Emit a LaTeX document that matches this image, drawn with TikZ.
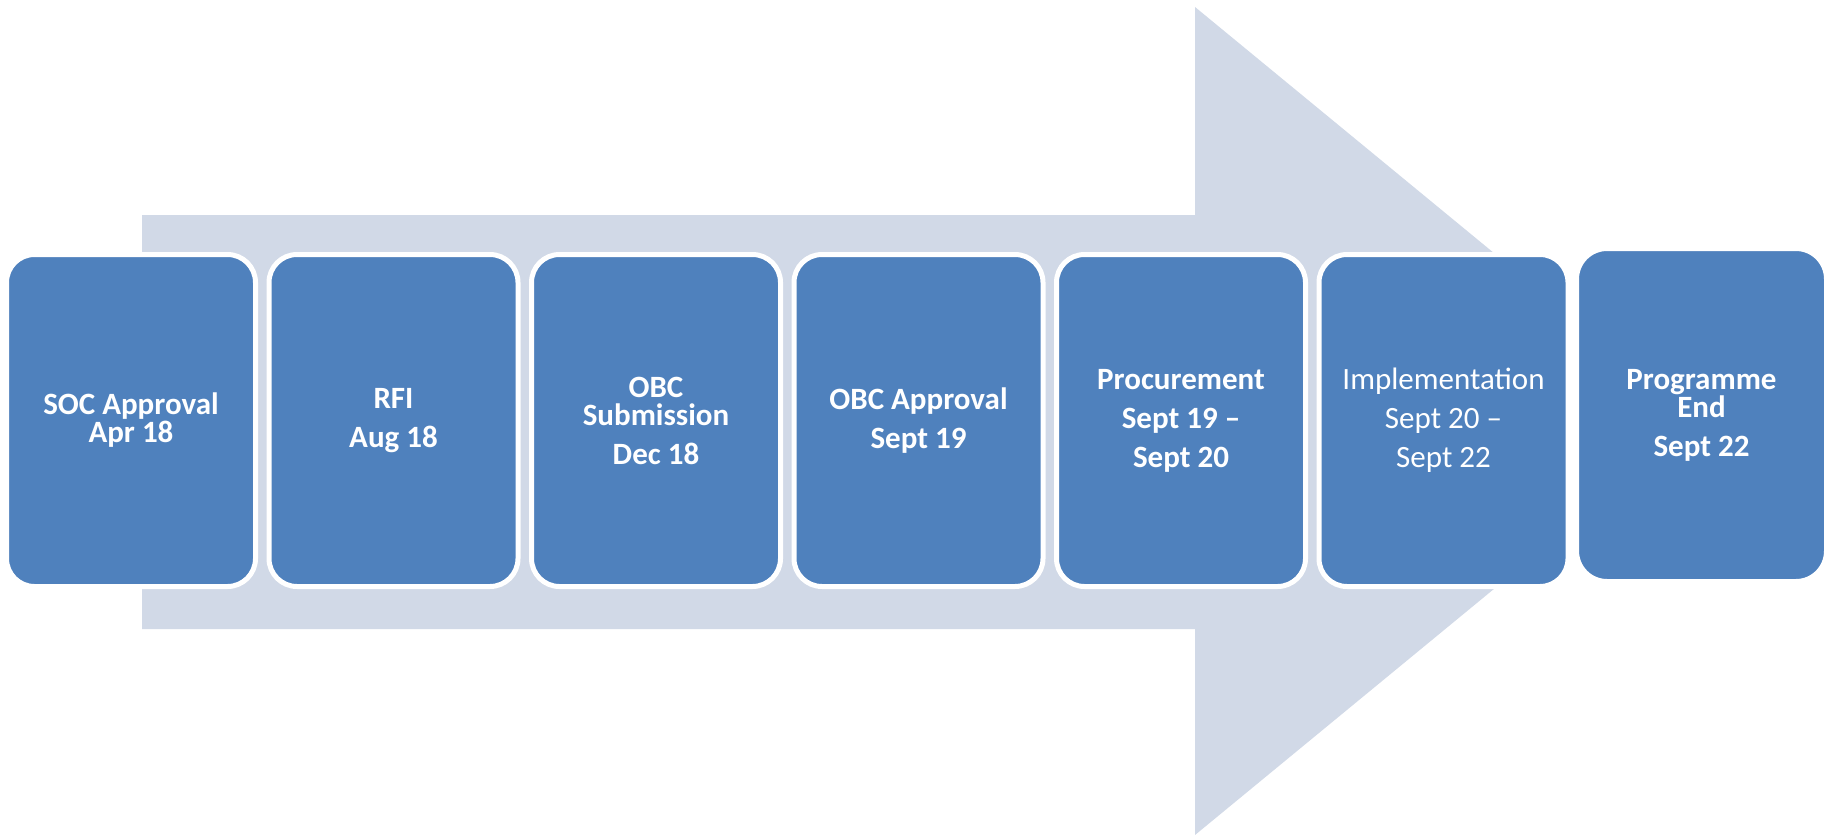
\documentclass[tikz,border=0pt]{standalone}
\usepackage{fontspec}
\setmainfont{Carlito}
\usepackage{tikz}
\usetikzlibrary{positioning}
\definecolor{stageblue}{HTML}{4F81BD}
\definecolor{arrowgrey}{HTML}{D1D9E7}

\begin{document}
\begin{tikzpicture}[
  x=0.5pt, y=-0.5pt,
  stage/.style={
    rectangle,
    rounded corners=14pt,
    draw=white,
    line width=2.5pt,
    fill=stageblue,
    minimum width=124.5pt,
    minimum height=166pt,
    align=center,
    font=\fontsize{15.5}{14}\selectfont\bfseries,
    text=white
  },
  stagelight/.style={
    stage,
    font=\fontsize{15.5}{14}\selectfont
  }
]
  \useasboundingbox (0,0) rectangle (1831,835);

  % big arrow behind the stages
  \fill[arrowgrey] (142,215) -- (1195,215) -- (1195,7) -- (1698,421)
    -- (1195,835) -- (1195,629) -- (142,629) -- cycle;

  % last stage first, its wide white rim hides the arrow tip
  \node[stage, line width=10pt, rounded corners=19pt, minimum width=132.5pt, minimum height=174pt] (prog) at (1701.5,415)
    {Programme\\End\\[5.5pt]Sept 22};

  \node[stage] (soc) at (131,420.5) {SOC Approval\\Apr 18};
  \node[stage] (rfi) at (393.5,420.5) {RFI\\[5.5pt]Aug 18};
  \node[stage] (obcsub) at (656,420.5) {OBC\\Submission\\[5.5pt]Dec 18};
  \node[stage] (obcapp) at (918.5,420.5) {OBC Approval\\[5.5pt]Sept 19};
  \node[stage] (proc) at (1181,420.5) {Procurement\\[5.5pt]Sept 19 –\\[5.5pt]Sept 20};
  \node[stagelight] (impl) at (1443.5,420.5) {Implementation\\[5.5pt]Sept 20 –\\[5.5pt]Sept 22};
\end{tikzpicture}
\end{document}
